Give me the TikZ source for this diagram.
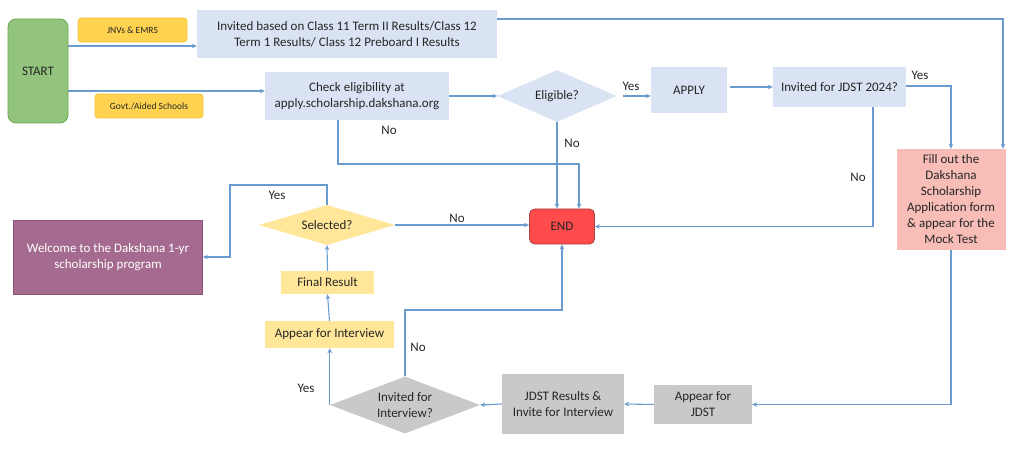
\documentclass[tikz,border=0pt]{standalone}
\usepackage{fontspec}
\setmainfont{Carlito}
\usetikzlibrary{shapes.geometric,arrows.meta}
\definecolor{lblue}{HTML}{DAE3F3}
\definecolor{arrc}{HTML}{6A9BCF}
\definecolor{sgreen}{HTML}{93C47D}
\definecolor{sgreenb}{HTML}{6AA84F}
\definecolor{tagy}{HTML}{FFD34F}
\definecolor{tagyb}{HTML}{F2C037}
\definecolor{ly}{HTML}{FFE699}
\definecolor{endr}{HTML}{FF4B4B}
\definecolor{endrb}{HTML}{A84444}
\definecolor{pinkf}{HTML}{F8BDB6}
\definecolor{grayf}{HTML}{C9C9C9}
\definecolor{mauve}{HTML}{A46A8F}
\definecolor{mauveb}{HTML}{8A5577}
\tikzset{
  base/.style={inner sep=0pt, align=center, font=\fontsize{13}{16}\selectfont, text=black!85},
  bluebox/.style={base, rectangle, fill=lblue},
  tagbox/.style={base, rectangle, rounded corners=3pt, fill=tagy, draw=tagyb, line width=0.6pt, font=\fontsize{9.5}{11}\selectfont},
  ybox/.style={base, rectangle, fill=ly},
  graybox/.style={base, rectangle, fill=grayf},
  dia/.style={base, diamond, aspect=2.6},
  arr/.style={draw=arrc, line width=1.1pt, -{Stealth[length=5pt,width=4.5pt]}},
  lbl/.style={base, inner sep=0pt},
}
\begin{document}
\begin{tikzpicture}[x=1pt,y=-1pt]
\path[use as bounding box, fill=white] (0,0) rectangle (1024,462);
% nodes
\node[base, rectangle, rounded corners=8pt, fill=sgreen, draw=sgreenb, line width=0.8pt, minimum width=60pt, minimum height=104pt] (start) at (38,71) {START};
\node[tagbox, minimum width=109pt, minimum height=24pt] (jnv) at (132.5,30) {JNVs \& EMRS};
\node[tagbox, minimum width=108pt, minimum height=24pt] (govt) at (149,106) {Govt./Aided Schools};
\node[bluebox, minimum width=300pt, minimum height=48pt] (inv) at (347,34) {Invited based on Class 11 Term II Results/Class 12\\Term 1 Results/ Class 12 Preboard I Results};
\node[bluebox, minimum width=184pt, minimum height=48pt] (check) at (357,96) {Check eligibility at\\apply.scholarship.dakshana.org};
\node[dia, fill=lblue, minimum width=119pt, minimum height=52pt] (elig) at (557,96) {Eligible?};
\node[bluebox, minimum width=76pt, minimum height=46pt] (apply) at (689,90) {APPLY};
\node[bluebox, minimum width=133pt, minimum height=40pt] (jdst) at (839.5,87) {Invited for JDST 2024?};
\node[base, rectangle, fill=pinkf, minimum width=109pt, minimum height=101pt] (fill) at (951,199.5) {Fill out the\\Dakshana\\Scholarship\\Application form\\\& appear for the\\Mock Test};
\node[base, rectangle, rounded corners=5pt, fill=endr, draw=endrb, line width=0.8pt, minimum width=65pt, minimum height=35pt] (endn) at (562,226.5) {END};
\node[dia, aspect=3.4, fill=ly, minimum width=136pt, minimum height=40pt] (sel) at (327,225) {Selected?};
\node[base, rectangle, fill=mauve, draw=mauveb, line width=0.5pt, text=white, minimum width=189pt, minimum height=74pt] (welcome) at (108,257) {Welcome to the Dakshana 1-yr\\scholarship program};
\node[ybox, minimum width=93pt, minimum height=23pt] (final) at (327.5,282.5) {Final Result};
\node[ybox, minimum width=129pt, minimum height=27pt] (appint) at (329.5,334.5) {Appear for Interview};
\node[dia, fill=grayf, minimum width=150pt, minimum height=57pt] (invint) at (405,405) {Invited for\\Interview?};
\node[graybox, minimum width=122pt, minimum height=60pt] (jres) at (563,404) {JDST Results \&\\Invite for Interview};
\node[graybox, minimum width=98pt, minimum height=39pt] (appjdst) at (703,404.5) {Appear for\\JDST};
% helper coordinates
\coordinate (c1) at (579,164);
\coordinate (yc) at (230,185);
\coordinate (c2) at (562,310);
% connectors
\draw[arr] (start.east |- 0,46) -- (inv.west |- 0,46);
\draw[arr] (start.east |- 0,91) -- (check.west |- 0,91);
\draw[arr] (inv.east |- 0,19) -| ([xshift=52pt]fill.north);
\draw[arr] (check.east |- 0,96) -- (elig.west);
\draw[arr] ([xshift=6pt]elig.east) -- (apply.west |- elig.east);
\draw[arr] ([xshift=3pt]apply.east |- 0,87) -- (jdst.west |- 0,87);
\draw[arr] (jdst.east |- 0,86) -| (fill.north);
\draw[arr] (jdst.south -| 873,0) |- (endn.east);
\draw[arr] (check.south -| 338,0) |- (c1) -- (c1 |- endn.north);
\draw[arr] (elig.south) -- (elig.south |- endn.north);
\draw[arr] (sel.east) -- (endn.west |- sel.east);
\draw[arr] (sel.north) |- (yc) |- (welcome.east);
\draw[arr] (final.north) -- (sel.south);
\draw[arr] (appint.north) -- (final.south);
\draw[arr] (invint.west) -- (invint.west |- appint.south);
\draw[arr] (invint.north) |- (c2) -- (endn.south);
\draw[arr] (jres.west) -- (invint.east);
\draw[arr] (appjdst.west) -- (jres.east);
\draw[arr] (fill.south) |- (appjdst.east);
% labels
\node[lbl] (l1) at (389,130) {No};
\node[lbl] (l2) at (572,143) {No};
\node[lbl] (l3) at (631,86) {Yes};
\node[lbl] (l4) at (920,75) {Yes};
\node[lbl] (l5) at (858,177) {No};
\node[lbl] (l6) at (277,195) {Yes};
\node[lbl] (l7) at (457,218) {No};
\node[lbl] (l8) at (418,347) {No};
\node[lbl] (l9) at (306,388) {Yes};
\end{tikzpicture}
\end{document}
